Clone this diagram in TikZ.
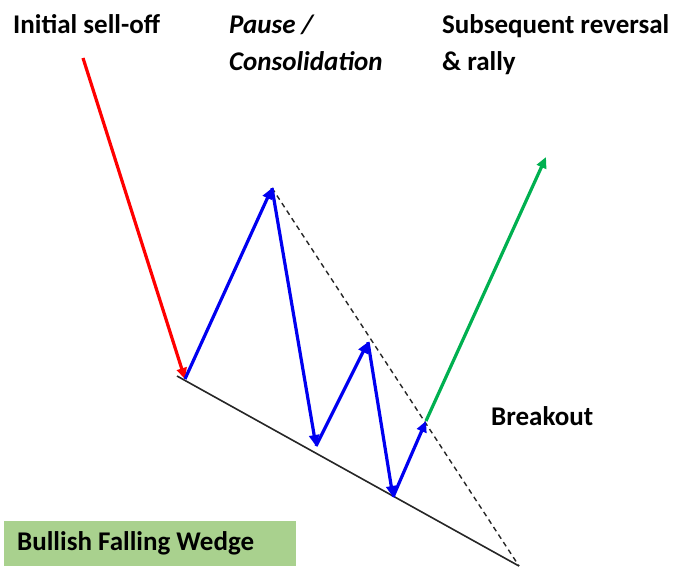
\documentclass[tikz,border=0pt]{standalone}
\usepackage{fontspec}
\setmainfont{Carlito}
\usetikzlibrary{arrows.meta, positioning}
\definecolor{selloff}{RGB}{255,0,0}
\definecolor{swing}{RGB}{0,0,240}
\definecolor{rally}{RGB}{0,176,80}
\definecolor{tag}{RGB}{169,209,142}

\begin{document}
\begin{tikzpicture}[x=1pt, y=-1pt,
    lbl/.style={font=\fontsize{27}{37}\selectfont\bfseries, inner sep=0pt, align=left, anchor=base west},
    move/.style={line width=3.2pt, -{Triangle[length=11pt,width=10pt]}},
    edgeline/.style={line width=1.6pt, black!85}]
    \useasboundingbox (0,0) rectangle (678,570);

    % texts (base of last line)
    \node[lbl] (sell) at (13,33) {Initial sell-off};
    \node[lbl] (pause) at (229,70) {\itshape Pause /\\\itshape Consolidation};
    \node[lbl] (rev) at (442,70) {Subsequent reversal\\\& rally};
    \node[lbl] (brk) at (491,425) {Breakout};
    \node[lbl, anchor=west, fill=tag, minimum height=45pt, text width=266pt, inner xsep=13pt, align=flush left] (name) at (4,543) {Bullish Falling Wedge};

    % points
    \coordinate (start) at (83,58);
    \coordinate (low1) at (185,379);
    \coordinate (high1) at (272,188);
    \coordinate (low2) at (316,446);
    \coordinate (high2) at (368,342);
    \coordinate (low3) at (393,497);
    \coordinate (out) at (426,421);
    \coordinate (up) at (546,157);
    \coordinate (lstart) at (177,376);
    \coordinate (apex) at (519,566);

    % wedge
    \draw[edgeline] (lstart) -- (apex);
    \draw[line width=1.4pt, black!85, dash pattern=on 5pt off 4pt] (high1) -- (apex);

    % moves
    \draw[move, selloff] (start) -- (low1);
    \draw[move, swing] (low1) -- (high1);
    \draw[move, swing] (high1) -- (low2);
    \draw[move, swing] (low2) -- (high2);
    \draw[move, swing] (high2) -- (low3);
    \draw[move, swing] (low3) -- (out);
    \draw[move, rally] (out) -- (up);
\end{tikzpicture}
\end{document}
